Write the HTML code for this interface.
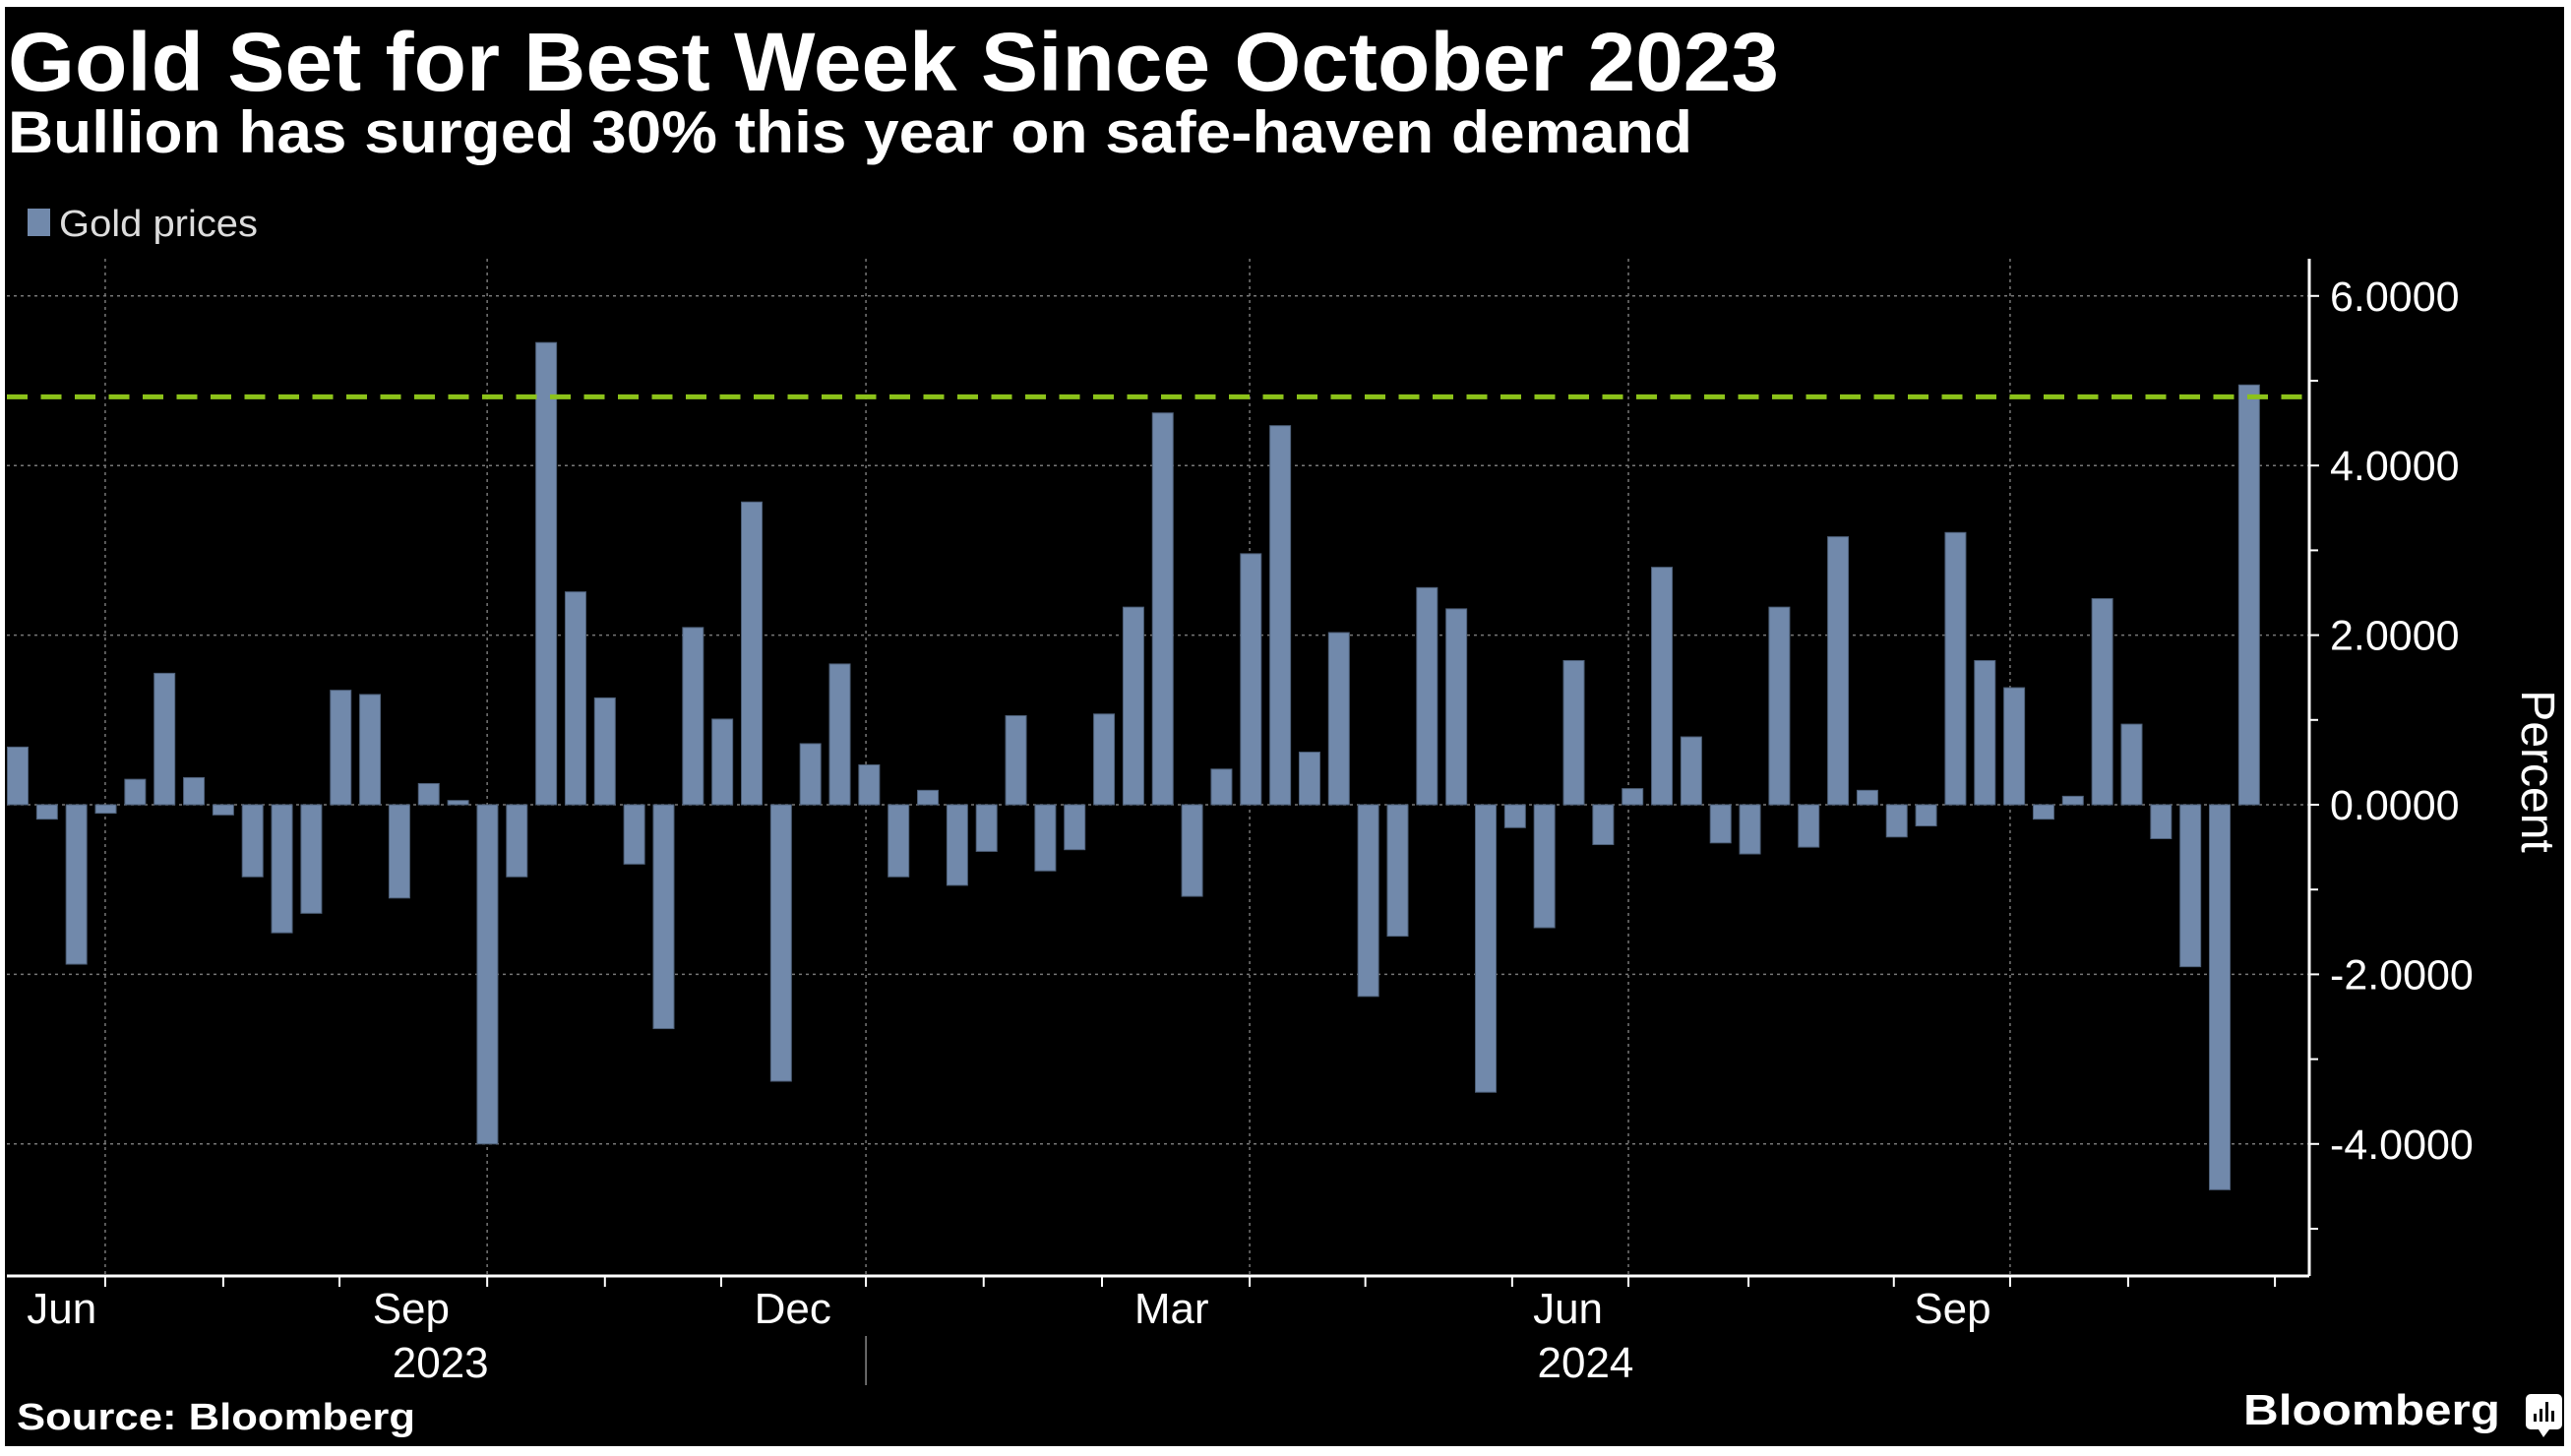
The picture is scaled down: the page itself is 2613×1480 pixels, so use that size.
<!DOCTYPE html>
<html><head><meta charset="utf-8"><title>Gold Set for Best Week Since October 2023</title>
<style>
html,body{margin:0;padding:0;background:#fff;}
svg{display:block;font-family:"Liberation Sans","DejaVu Sans",sans-serif;}
</style></head>
<body>
<svg id="chart" width="2613" height="1480" viewBox="0 0 2613 1480" xmlns="http://www.w3.org/2000/svg">
<rect x="0" y="0" width="2613" height="1480" fill="#ffffff"/>
<rect x="5" y="7" width="2601" height="1463" fill="#000000"/>
<text x="8" y="92" font-size="84" font-weight="bold" fill="#fff" textLength="1800" lengthAdjust="spacingAndGlyphs">Gold Set for Best Week Since October 2023</text>
<text x="8" y="155" font-size="60" font-weight="bold" fill="#fff" textLength="1712" lengthAdjust="spacingAndGlyphs">Bullion has surged 30% this year on safe-haven demand</text>
<g>
<rect x="28" y="212" width="23" height="28" fill="#7189ab"/>
<text x="60" y="240" font-size="38" fill="#ddd" textLength="202" lengthAdjust="spacingAndGlyphs">Gold prices</text>
</g>
<g id="grid"></g>
<g id="bars"></g>
<g id="axes"></g>
<text x="17" y="1453" font-size="38" font-weight="bold" fill="#fff" textLength="405" lengthAdjust="spacingAndGlyphs">Source: Bloomberg</text>
<text x="2280" y="1448" font-size="44" font-weight="bold" fill="#fff" textLength="261" lengthAdjust="spacingAndGlyphs">Bloomberg</text>
<g>
<rect x="2567" y="1417" width="37" height="36" rx="5" fill="#fff"/>
<polygon points="2580,1453 2591,1453 2585,1461" fill="#fff"/>
<rect x="2575" y="1437" width="3" height="8" fill="#000"/>
<rect x="2581" y="1432" width="3" height="13" fill="#000"/>
<rect x="2587" y="1425" width="3" height="20" fill="#000"/>
<rect x="2593" y="1434" width="3" height="11" fill="#000"/>
</g>
</svg>
<script>
const weeklyChange = [0.68,-0.17,-1.88,-0.10,0.30,1.55,0.32,-0.12,-0.85,-1.51,-1.28,1.35,1.30,-1.10,0.25,0.05,-4.00,-0.85,5.45,2.51,1.26,-0.70,-2.64,2.09,1.01,3.57,-3.26,0.72,1.66,0.47,-0.85,0.17,-0.95,-0.55,1.05,-0.78,-0.53,1.07,2.33,4.62,-1.08,0.42,2.96,4.47,0.62,2.03,-2.26,-1.55,2.56,2.31,-3.39,-0.27,-1.45,1.70,-0.47,0.19,2.80,0.80,-0.45,-0.58,2.33,-0.50,3.16,0.17,-0.38,-0.25,3.21,1.70,1.38,-0.17,0.10,2.43,0.95,-0.40,-1.91,-4.54,4.95];
const referenceLevel = [4.81];
const yTicks = [6,4,2,0,-2,-4];
const yTickLabels = ["6.0000","4.0000","2.0000","0.0000","-2.0000","-4.0000"];
const yMinorTicks = [5,3,1,-1,-3,-5];
const monthTickWeeks = [2.98,7.0,10.96,15.99,20.0,23.96,28.89,32.9,36.93,41.96,45.9,50.9,54.86,58.95,63.9,67.86,71.88,76.88];
const majorTickWeeks = [2.98,15.99,28.89,41.96,54.86,67.86];
const monthLabels = ["Jun","Sep","Dec","Mar","Jun","Sep"];
const monthLabelWeeks = [1.5,13.4,26.4,39.3,52.8,65.9];
const yearLabels = ["2023","2024"];
const yearLabelWeeks = [14.4,53.4];
const yearSeparatorWeeks = [28.89];

const NS="http://www.w3.org/2000/svg";
const plotL=7, plotR=2347, plotT=263, plotB=1297;
const x0=18, step=29.84, barW=21;
const zeroY=818, unitPx=86.2;
function xScale(i){return x0+i*step;}
function yScale(v){return zeroY-v*unitPx;}
function mk(tag,attrs,parent){const e=document.createElementNS(NS,tag);for(const k in attrs)e.setAttribute(k,attrs[k]);parent.appendChild(e);return e;}

const grid=document.getElementById('grid');
const bars=document.getElementById('bars');
const axes=document.getElementById('axes');

yTicks.forEach(function(v){
  const l=mk('line',{x1:plotL,x2:plotR,y1:yScale(v),y2:yScale(v),stroke:'#777','stroke-width':1.5,'stroke-dasharray':'3,4'},grid);
  
  
});
majorTickWeeks.forEach(function(w){
  const x=xScale(w);
  const l=mk('line',{x1:x,x2:x,y1:plotT,y2:plotB,stroke:'#777','stroke-width':1.5,'stroke-dasharray':'3,4'},grid);
  
  
});

weeklyChange.forEach(function(v,i){
  const y=Math.min(yScale(v),zeroY), h=Math.abs(yScale(v)-zeroY);
  const r=mk('rect',{x:xScale(i)-barW/2,y:y,width:barW,height:Math.max(h,1),fill:'#7189ab',stroke:'#4d5f78','stroke-width':1},bars);
  
  
});

referenceLevel.forEach(function(v){
  const l=mk('line',{x1:plotL,x2:plotR,y1:yScale(v),y2:yScale(v),stroke:'#8cc21a','stroke-width':5,'stroke-dasharray':'21,13.5'},bars);
  
  
});

const ya=mk('line',{x1:plotR,x2:plotR,y1:plotT,y2:plotB,stroke:'#fff','stroke-width':3},axes);


yTicks.forEach(function(v,i){
  const t=mk('line',{x1:plotR,x2:plotR+10,y1:yScale(v),y2:yScale(v),stroke:'#fff','stroke-width':2},axes);
  
  
  const tx=mk('text',{x:2368,y:yScale(v)+15,'font-size':43,fill:'#fff'},axes);
  tx.textContent=yTickLabels[i];
  
  
});
yMinorTicks.forEach(function(v){
  const t=mk('line',{x1:plotR,x2:plotR+9,y1:yScale(v),y2:yScale(v),stroke:'#fff','stroke-width':2},axes);
  
  
});
const yt=mk('text',{x:0,y:0,'font-size':48,fill:'#fff','text-anchor':'middle',transform:'translate(2563,784) rotate(90)'},axes);
yt.textContent='Percent';



const xa=mk('line',{x1:plotL,x2:plotR,y1:plotB,y2:plotB,stroke:'#fff','stroke-width':3},axes);


monthTickWeeks.forEach(function(w){
  const x=xScale(w);
  const t=mk('line',{x1:x,x2:x,y1:plotB,y2:plotB+11,stroke:'#fff','stroke-width':2},axes);
  
  
});
monthLabels.forEach(function(lbl,i){
  const tx=mk('text',{x:xScale(monthLabelWeeks[i]),y:1345,'font-size':44,fill:'#fff','text-anchor':'middle'},axes);
  tx.textContent=lbl;
  
  
});
yearLabels.forEach(function(lbl,i){
  const tx=mk('text',{x:xScale(yearLabelWeeks[i]),y:1400,'font-size':44,fill:'#fff','text-anchor':'middle'},axes);
  tx.textContent=lbl;
  
  
});
yearSeparatorWeeks.forEach(function(w){
  const x=xScale(w);
  const l=mk('line',{x1:x,x2:x,y1:1358,y2:1408,stroke:'#888','stroke-width':1.5},axes);
  
  
});
</script>
</body></html>
